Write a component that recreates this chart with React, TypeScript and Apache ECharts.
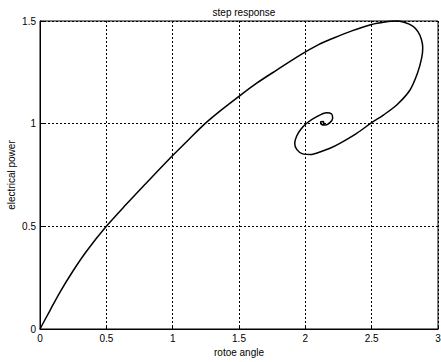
import React, { useEffect, useRef } from "react";
import * as echarts from "echarts";

const titleText = "step response";
const xLabel = "rotoe angle";
const yLabel = "electrical power";

// rotor angle (x) and electrical power (y) along the trajectory
const rotorAngle = [
  0, 0.075, 0.151, 0.251, 0.352, 0.5, 0.65, 0.8, 0.9, 1.0, 1.12, 1.244, 1.37, 1.5, 1.633,
  1.784, 1.96, 2.1, 2.21, 2.35, 2.5, 2.6, 2.68, 2.75, 2.81, 2.85, 2.875, 2.885, 2.877,
  2.845, 2.789, 2.689, 2.588, 2.5, 2.387, 2.26, 2.186, 2.11, 2.04, 1.98, 1.935, 1.92, 1.935,
  1.965, 2.01, 2.086, 2.161, 2.198, 2.206, 2.185, 2.15, 2.12, 2.115, 2.135, 2.14, 2.13,
];
const electricalPower = [
  0, 0.09, 0.18, 0.285, 0.38, 0.5, 0.607, 0.71, 0.778, 0.845, 0.922, 1.0, 1.068, 1.133,
  1.197, 1.261, 1.334, 1.385, 1.416, 1.452, 1.483, 1.495, 1.5, 1.493, 1.475, 1.447, 1.41,
  1.37, 1.32, 1.245, 1.164, 1.091, 1.042, 1.005, 0.953, 0.904, 0.88, 0.862, 0.85, 0.853,
  0.875, 0.905, 0.94, 0.972, 1.002, 1.034, 1.053, 1.047, 1.026, 1.005, 0.993, 0.997, 1.008,
  1.01, 1.0, 0.997,
];

const xTicks = [0, 0.5, 1, 1.5, 2, 2.5, 3];
const yTicks = [0, 0.5, 1, 1.5];

export default function App() {
  const ref = useRef<HTMLDivElement>(null);
  useEffect(() => {
    if (!ref.current) return;
    const chart = echarts.init(ref.current, null, { renderer: "svg" });
    const font = "Liberation Sans, Arial, sans-serif";
    const data = rotorAngle.map((x, i) => [x, electricalPower[i]]);
    chart.setOption({
      animation: false,
      backgroundColor: "#fff",
      title: {
        text: titleText,
        left: 239,
        top: 2,
        textAlign: "center",
        textStyle: { fontFamily: font, fontSize: 10, fontWeight: "normal", color: "#000" },
      },
      grid: {
        left: 40,
        right: 3,
        top: 21,
        bottom: 33,
        show: true,
        borderColor: "#000",
        borderWidth: 1,
        backgroundColor: "#fff",
        containLabel: false,
        outerBoundsMode: "none",
      },
      xAxis: {
        type: "value",
        min: xTicks[0],
        max: xTicks[xTicks.length - 1],
        interval: 0.5,
        name: xLabel,
        nameLocation: "middle",
        nameGap: 18,
        nameMoveOverlap: false,
        nameTextStyle: { fontFamily: font, fontSize: 10, color: "#000" },
        axisLine: { show: true, lineStyle: { color: "#000", width: 1 } },
        axisTick: { show: true, inside: true, length: 4, lineStyle: { color: "#000" } },
        axisLabel: {
          fontFamily: font,
          fontSize: 10,
          color: "#000",
          margin: 4,
          formatter: (v: number) => String(v),
        },
        splitLine: { show: true, lineStyle: { color: "#000", type: [2, 2], width: 1 } },
      },
      yAxis: {
        type: "value",
        min: yTicks[0],
        max: yTicks[yTicks.length - 1],
        interval: 0.5,
        name: yLabel,
        nameLocation: "middle",
        nameGap: 24,
        nameMoveOverlap: false,
        nameTextStyle: { fontFamily: font, fontSize: 10, color: "#000" },
        axisLine: { show: true, lineStyle: { color: "#000", width: 1 } },
        axisTick: { show: true, inside: true, length: 4, lineStyle: { color: "#000" } },
        axisLabel: {
          fontFamily: font,
          fontSize: 10,
          color: "#000",
          margin: 4,
          formatter: (v: number) => String(v),
        },
        splitLine: { show: true, lineStyle: { color: "#000", type: [2, 2], width: 1 } },
      },
      series: [
        {
          type: "line",
          data,
          showSymbol: false,
          symbol: "none",
          smooth: 0.3,
          lineStyle: { color: "#000", width: 1.5 },
          clip: false,
        },
      ],
    });
    return () => chart.dispose();
  }, []);
  return <div ref={ref} style={{ width: 441, height: 362, position: "absolute", left: 0, top: 0 }} />;
}
